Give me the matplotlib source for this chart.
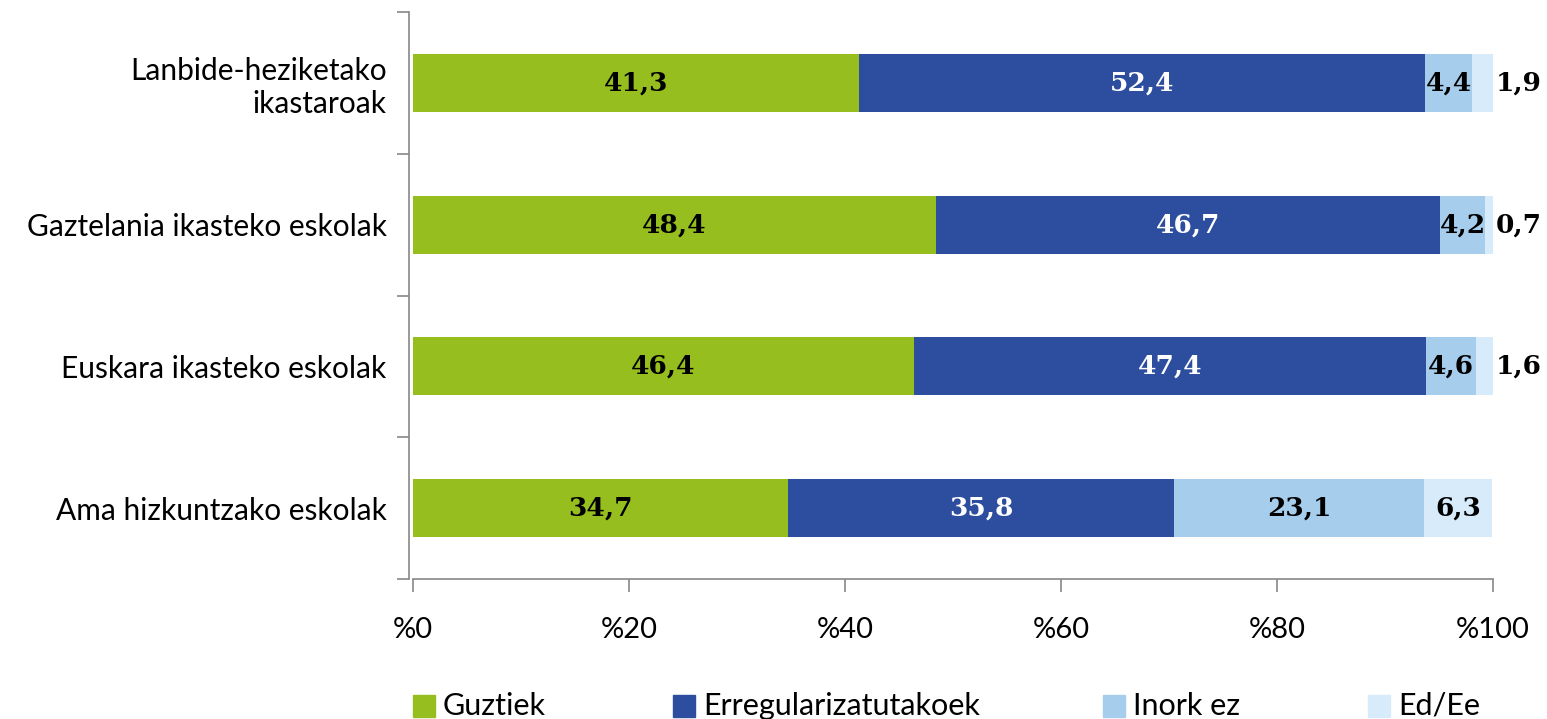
import matplotlib
matplotlib.use("Agg")
import matplotlib.pyplot as plt
from matplotlib.patches import Rectangle
import numpy as np

categories = ["Lanbide-heziketako\nikastaroak", "Gaztelania ikasteko eskolak",
              "Euskara ikasteko eskolak", "Ama hizkuntzako eskolak"]
series_names = ["Guztiek", "Erregularizatutakoek", "Inork ez", "Ed/Ee"]
guztiek = [41.3, 48.4, 46.4, 34.7]
erreg = [52.4, 46.7, 47.4, 35.8]
inork = [4.4, 4.2, 4.6, 23.1]
eded = [1.9, 0.7, 1.6, 6.3]
xtick_labels = ["%0", "%20", "%40", "%60", "%80", "%100"]

colors = ["#95BE1E", "#2D4E9E", "#A7CDEC", "#D7EBFA"]
text_colors = ["black", "white", "black", "black"]

plt.rcParams['font.family'] = ['Lato', 'DejaVu Sans']

W, H = 1547, 719
fig = plt.figure(figsize=(W / 100, H / 100), dpi=100)
ax = fig.add_axes([413 / W, 140 / H, 1080 / W, 567 / H])

ypos = np.arange(len(categories))[::-1]  # top category first
data = [guztiek, erreg, inork, eded]
left = np.zeros(len(categories))
bh = 0.41
vfont = dict(fontsize=19, fontweight="bold", family=["DejaVu Serif"])
for s, (vals, col, tc) in enumerate(zip(data, colors, text_colors)):
    vals = np.array(vals)
    ax.barh(ypos, vals, left=left, height=bh, color=col, label=series_names[s])
    for i, v in enumerate(vals):
        txt = f"{v:.1f}".replace(".", ",")
        if s == 3 and v < 3:
            ax.text(100 + 0.3, ypos[i], txt, ha="left", va="center",
                    color="black", **vfont)
        else:
            ax.text(left[i] + v / 2, ypos[i], txt, ha="center", va="center",
                    color=tc, **vfont)
    left = left + vals

ax.set_xlim(0, 100)
ax.set_ylim(-0.5, 3.5)
ax.set_xticks(np.arange(0, 101, 20))
ax.set_yticks(ypos)
ax.set_yticks(np.arange(-0.5, 3.6, 1.0), minor=True)
ax.tick_params(axis="y", which="major", length=0, pad=16, labelsize=21.5)
ax.tick_params(axis="y", which="minor", length=9, color="#888888", width=1.2)
ax.tick_params(axis="x", length=9, color="#888888", width=1.2, pad=18, labelsize=21)
ax.set_xticklabels(xtick_labels)
ax.set_yticklabels(categories, multialignment="center")
for sp in ["top", "right"]:
    ax.spines[sp].set_visible(False)
for sp in ["left", "bottom"]:
    ax.spines[sp].set_color("#888888")
    ax.spines[sp].set_linewidth(1.2)
ax.spines["left"].set_position(("outward", 3))

# legend drawn manually
leg_x = [413, 673, 1103, 1368]
for x, c, name in zip(leg_x, colors, series_names):
    fig.patches.append(Rectangle((x / W, (719 - 717) / H), 22 / W, 22 / H,
                                 transform=fig.transFigure, color=c))
    fig.text((x + 30) / W, (719 - 706) / H, name, fontsize=22, va="center", ha="left")

fig.savefig("out.png", dpi=100)
